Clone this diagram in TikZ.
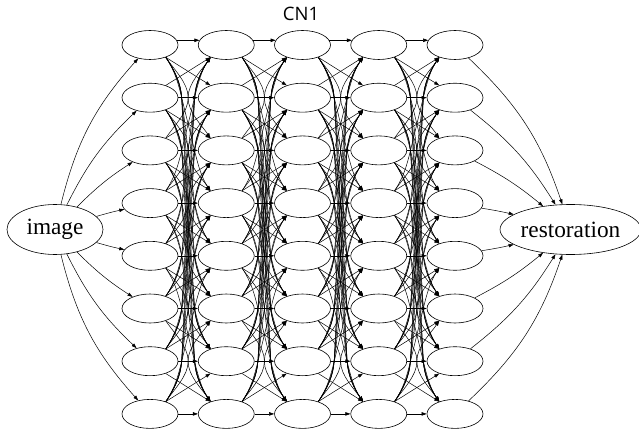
\documentclass[tikz,border=0pt]{standalone}
\usepackage{fontspec}
\setmainfont{Liberation Serif}
\newfontfamily\titlefont{Open Sans}
\usetikzlibrary{arrows.meta,shapes.geometric}
\begin{document}
\begin{tikzpicture}[x=1pt,y=1pt,
  unit/.style={draw, ellipse, line width=0.6pt, minimum width=56pt, minimum height=29pt, inner sep=0pt},
  io/.style={draw, ellipse, line width=0.6pt, minimum height=50pt, inner sep=0pt,
             font=\fontsize{23.3}{26}\selectfont},
  edge/.style={line width=0.5pt, -{Triangle[length=5pt,width=3.4pt]}},
  title/.style={font=\titlefont\fontsize{18.5}{20}\selectfont},
]
\useasboundingbox (0,0) rectangle (639,429);

% title
\node[title] (cap) at (301,415.5) {CN1};

% hidden layers: 5 columns of 8 units
\foreach \c in {1,...,5} {
  \foreach \r in {1,...,8} {
    \node[unit] (n\c-\r) at ({150+(\c-1)*76.25}, {384-(\r-1)*52.7}) {};
  }
}

% input and output
\node[io, minimum width=96pt]  (img)  at (55,199.5)  {image};
\node[io, minimum width=135pt] (rest) at (570.5,199.5) {restoration};

% full connections between neighbouring columns
\foreach \c [evaluate=\c as \d using int(\c+1)] in {1,...,4} {
  \pgfmathsetmacro\xa{150+(\c-1)*76.25+15.7}
  \pgfmathsetmacro\xb{\xa+76.25-31.4}
  \pgfmathsetmacro\xm{150+(\c-1)*76.25+38.125}
  \foreach \r in {1,...,8} {
    \foreach \s in {1,...,8} {
      \pgfmathtruncatemacro\k{abs(\s-\r)}
      \ifnum\k=0
        \ifnum\r=1
          \draw[edge] (n\c-\r.10) -- (n\d-\s.170);
        \else
          \draw[edge] (n\c-\r.east) -- (n\d-\s.west);
        \fi
      \else
        \ifnum\k=1
          % neighbouring rows: straight diagonals
          \ifnum\s>\r
            \draw[edge] (n\c-\r.-38) -- (n\d-\s.142);
          \else
            \draw[edge] (n\c-\r.38) -- (n\d-\s.218);
          \fi
        \else
          % distant rows: bend into the gap, drift across it, bend out
          \pgfmathsetmacro\w{\k==2 ? 0 : 6.5}
          \pgfmathsetmacro\ml{\xm-\w}
          \pgfmathsetmacro\mr{\xm+\w}
          \pgfmathsetmacro\sl{28*\w/(\k*52.7-104.6)}
          \ifnum\s>\r
            \pgfmathsetmacro\ya{384-(\r-1)*52.7-12.3}
            \pgfmathsetmacro\yb{384-(\s-1)*52.7+12.3}
            \draw[edge] (n\c-\r.-38) .. controls (\xa+9,\ya-13) and (\ml-\sl,\ya-26) .. (\ml,\ya-40)
              -- (\mr,\yb+40) .. controls (\mr+\sl,\yb+26) and (\xb-9,\yb+13) .. (n\d-\s.142);
          \else
            \pgfmathsetmacro\ya{384-(\r-1)*52.7+12.3}
            \pgfmathsetmacro\yb{384-(\s-1)*52.7-12.3}
            \draw[edge] (n\c-\r.38) .. controls (\xa+9,\ya+13) and (\ml-\sl,\ya+26) .. (\ml,\ya+40)
              -- (\mr,\yb-40) .. controls (\mr+\sl,\yb-26) and (\xb-9,\yb-13) .. (n\d-\s.218);
          \fi
        \fi
      \fi
    }
  }
}

% fan-out from the input and fan-in to the output
\foreach \r in {1,...,8} {
  \pgfmathsetmacro\b{4*(4.5-\r)}
  \draw[edge] (img) to[bend left=\b] (n1-\r);
  \draw[edge] (n5-\r) to[bend left=\b] (rest);
}
\end{tikzpicture}
\end{document}
